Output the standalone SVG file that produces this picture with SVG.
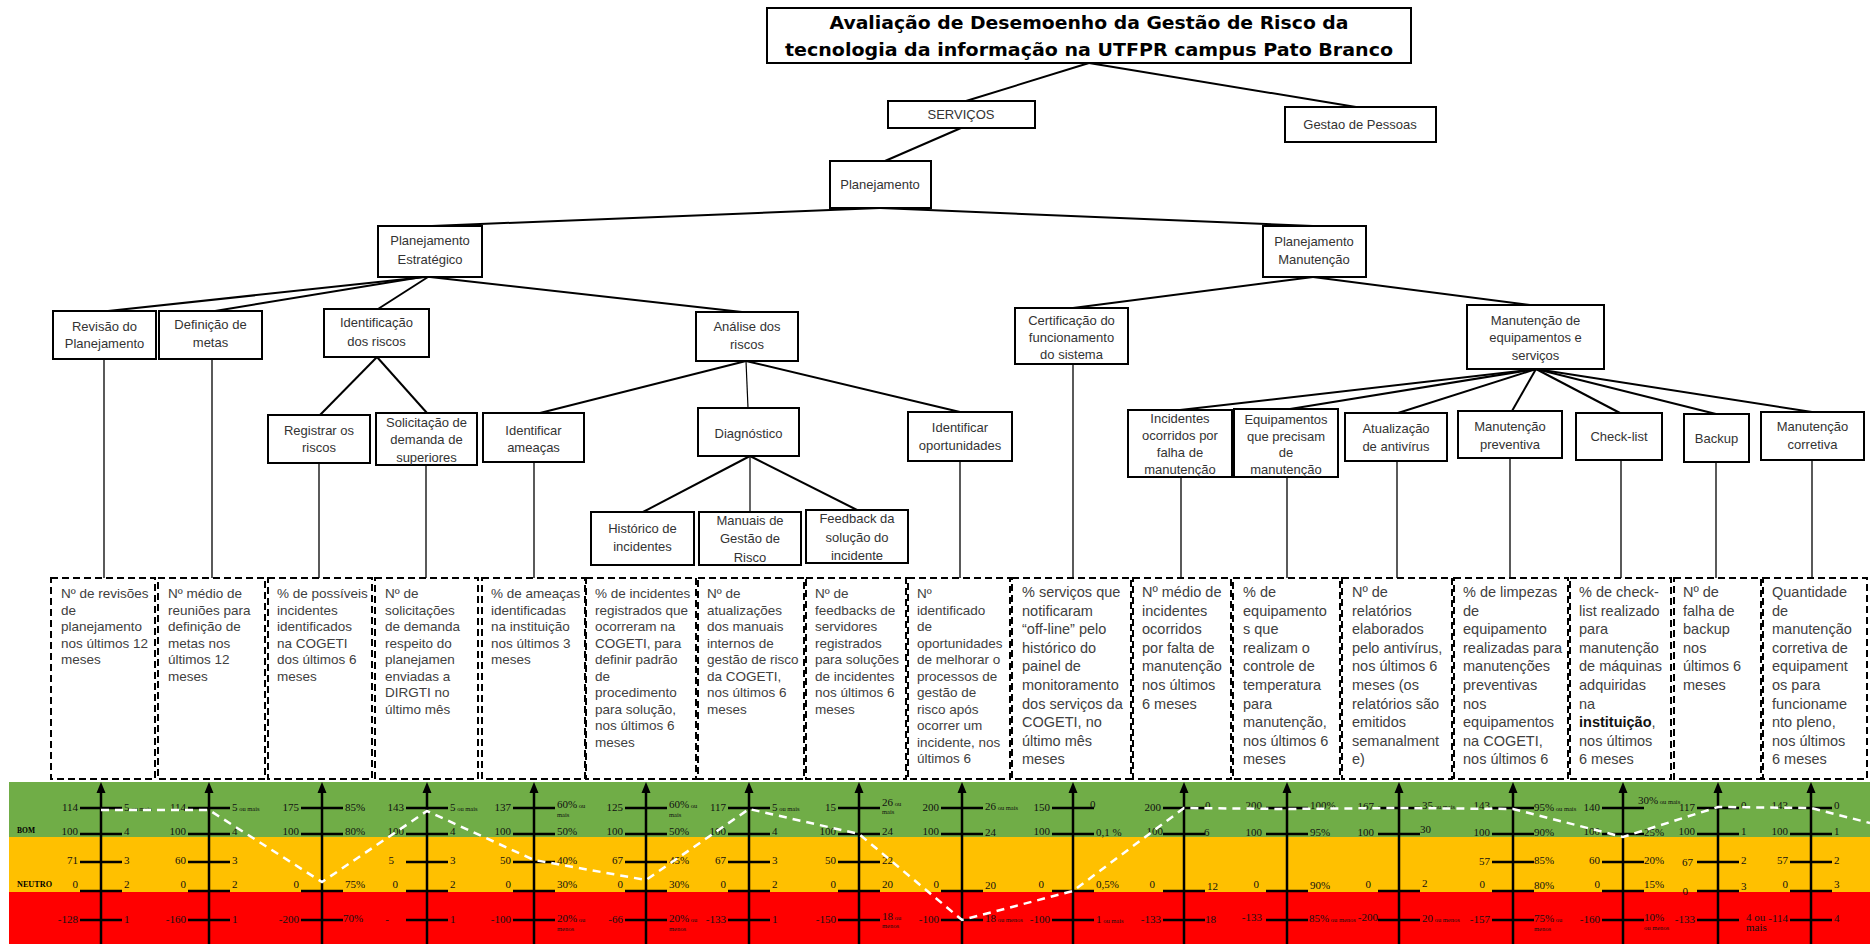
<svg xmlns="http://www.w3.org/2000/svg" xmlns:xlink="http://www.w3.org/1999/xlink" width="1870" height="944" viewBox="0 0 1870 944">
<style>
  .node rect { fill: #fff; stroke: #000; stroke-width: 2; }
  .node text { font-family: "Liberation Sans", Arial, sans-serif; font-size: 13px; fill: #333; text-anchor: middle; }
  .title text { font-family: "DejaVu Sans", Verdana, sans-serif; font-weight: bold; font-size: 17px; fill: #000; text-anchor: middle; }
  .edge { stroke: #000; stroke-width: 2; fill: none; }
  .thin { stroke-width: 1.2; }
  .drop { stroke: #000; stroke-width: 1.3; }
  .ind rect { fill: #fff; stroke: #000; stroke-width: 2; stroke-dasharray: 7 4; }
  .ind text { font-family: "Liberation Sans", Arial, sans-serif; font-size: 13.5px; fill: #404040; }
  .ind.r text { font-size: 14.5px; }
  .v { font-family: "Liberation Serif", "Times New Roman", serif; font-size: 11px; fill: #111; }
  .l { text-anchor: end; }
  .s { font-size: 6.5px; }
  .band-label { font-family: "Liberation Serif", serif; font-weight: bold; font-size: 7.5px; fill: #000; }
</style>
<defs>
  <g id="axis">
    <line x1="0" y1="944" x2="0" y2="792" stroke="#000" stroke-width="2.5"/>
    <path d="M-4.5,793 L0,782 L4.5,793 Z" fill="#000"/>
  </g>
  <line id="tk" x1="-21" y1="0" x2="21" y2="0" stroke="#000" stroke-width="2.5"/>
</defs>

<rect width="1870" height="944" fill="#fff"/>

<!-- tree connectors -->
<g id="connectors">
  <line class="edge" x1="1089" y1="63" x2="966" y2="101"/>
  <line class="edge" x1="1089" y1="63" x2="1356" y2="107"/>
  <line class="edge" x1="961" y1="128" x2="885" y2="161"/>
  <line class="edge" x1="880" y1="208" x2="432" y2="226"/>
  <line class="edge" x1="880" y1="208" x2="1313" y2="226"/>
  <line class="edge" x1="425" y1="277" x2="108" y2="311"/>
  <line class="edge" x1="422" y1="277" x2="215" y2="311"/>
  <line class="edge" x1="428" y1="277" x2="378" y2="309"/>
  <line class="edge" x1="430" y1="277" x2="742" y2="312"/>
  <line class="edge" x1="377" y1="357" x2="320" y2="415"/>
  <line class="edge" x1="377" y1="357" x2="427" y2="413"/>
  <line class="edge" x1="746" y1="361" x2="540" y2="413"/>
  <line class="edge thin" x1="746" y1="361" x2="748" y2="408"/>
  <line class="edge" x1="746" y1="361" x2="960" y2="412"/>
  <line class="edge" x1="750" y1="456" x2="643" y2="512"/>
  <line class="edge thin" x1="750" y1="456" x2="750" y2="512"/>
  <line class="edge" x1="750" y1="456" x2="857" y2="510"/>
  <line class="edge" x1="1313" y1="277" x2="1073" y2="308"/>
  <line class="edge" x1="1313" y1="277" x2="1530" y2="305"/>
  <line class="edge" x1="1536" y1="369" x2="1180" y2="410"/>
  <line class="edge" x1="1536" y1="369" x2="1290" y2="409"/>
  <line class="edge" x1="1536" y1="369" x2="1398" y2="413"/>
  <line class="edge" x1="1536" y1="369" x2="1512" y2="411"/>
  <line class="edge" x1="1536" y1="369" x2="1620" y2="413"/>
  <line class="edge" x1="1536" y1="369" x2="1716" y2="414"/>
  <line class="edge" x1="1536" y1="369" x2="1812" y2="412"/>
  <!-- drops to indicators -->
  <line class="drop" x1="104" y1="359" x2="104" y2="578"/>
  <line class="drop" x1="212" y1="359" x2="212" y2="578"/>
  <line class="drop" x1="319" y1="463" x2="319" y2="578"/>
  <line class="drop" x1="426" y1="465" x2="426" y2="578"/>
  <line class="drop" x1="534" y1="462" x2="534" y2="578"/>
  <line class="drop" x1="960" y1="461" x2="960" y2="578"/>
  <line class="drop" x1="1073" y1="364" x2="1073" y2="578"/>
  <line class="drop" x1="1181" y1="477" x2="1181" y2="578"/>
  <line class="drop" x1="1287" y1="477" x2="1287" y2="578"/>
  <line class="drop" x1="1397" y1="461" x2="1397" y2="578"/>
  <line class="drop" x1="1510" y1="458" x2="1510" y2="578"/>
  <line class="drop" x1="1621" y1="460" x2="1621" y2="578"/>
  <line class="drop" x1="1716" y1="462" x2="1716" y2="578"/>
  <line class="drop" x1="1812" y1="460" x2="1812" y2="578"/>
</g>

<!-- tree nodes -->
<g id="title" class="node title">
  <rect x="767" y="8" width="644" height="55"/>
  <text x="1089" y="29" textLength="519" lengthAdjust="spacingAndGlyphs">Avaliação de Desemoenho da Gestão de Risco da</text>
  <text x="1089" y="56" textLength="608" lengthAdjust="spacingAndGlyphs">tecnologia da informação na  UTFPR campus Pato Branco</text>
</g>
<g id="servicos" class="node"><rect x="888" y="101" width="147" height="27"/><text x="961" y="118.5">SERVIÇOS</text></g>
<g id="gestao-pessoas" class="node"><rect x="1285" y="107" width="151" height="35"/><text x="1360" y="128.5">Gestao de Pessoas</text></g>
<g id="planejamento" class="node"><rect x="830" y="161" width="101" height="47"/><text x="880" y="188.5">Planejamento</text></g>
<g id="plan-estrategico" class="node"><rect x="378" y="226" width="104" height="51"/><text x="430" y="244.5">Planejamento<tspan x="430" dy="19">Estratégico</tspan></text></g>
<g id="plan-manutencao" class="node"><rect x="1263" y="226" width="103" height="51"/><text x="1314" y="245.5">Planejamento<tspan x="1314" dy="18">Manutenção</tspan></text></g>
<g id="revisao" class="node"><rect x="53" y="311" width="103" height="48"/><text x="104.5" y="330.5">Revisão do<tspan x="104.5" dy="17">Planejamento</tspan></text></g>
<g id="definicao" class="node"><rect x="159" y="311" width="103" height="48"/><text x="210.5" y="328.5">Definição de<tspan x="210.5" dy="18">metas</tspan></text></g>
<g id="identificacao" class="node"><rect x="324" y="309" width="105" height="48"/><text x="376.5" y="326.5">Identificação<tspan x="376.5" dy="19">dos riscos</tspan></text></g>
<g id="analise" class="node"><rect x="696" y="312" width="102" height="49"/><text x="747" y="331">Análise dos<tspan x="747" dy="18">riscos</tspan></text></g>
<g id="certificacao" class="node"><rect x="1015" y="308" width="113" height="56"/><text x="1071.5" y="324.5">Certificação do<tspan x="1071.5" dy="17">funcionamento</tspan><tspan x="1071.5" dy="17">do sistema</tspan></text></g>
<g id="manut-equip" class="node"><rect x="1467" y="305" width="137" height="64"/><text x="1535.5" y="324.5">Manutenção de<tspan x="1535.5" dy="17">equipamentos e</tspan><tspan x="1535.5" dy="18">serviços</tspan></text></g>
<g id="registrar" class="node"><rect x="268" y="415" width="102" height="48"/><text x="319" y="434.5">Registrar os<tspan x="319" dy="17">riscos</tspan></text></g>
<g id="solicitacao" class="node"><rect x="376" y="413" width="101" height="52"/><text x="426.5" y="426.5">Solicitação de<tspan x="426.5" dy="17">demanda de</tspan><tspan x="426.5" dy="18">superiores</tspan></text></g>
<g id="ameacas" class="node"><rect x="483" y="413" width="101" height="49"/><text x="533.5" y="434.5">Identificar<tspan x="533.5" dy="17">ameaças</tspan></text></g>
<g id="diagnostico" class="node"><rect x="698" y="408" width="101" height="48"/><text x="748.5" y="437.5">Diagnóstico</text></g>
<g id="oportunidades" class="node"><rect x="908" y="412" width="104" height="49"/><text x="960" y="431.5">Identificar<tspan x="960" dy="18">oportunidades</tspan></text></g>
<g id="incidentes" class="node"><rect x="1128" y="410" width="104" height="67"/><text x="1180" y="423">Incidentes<tspan x="1180" dy="17">ocorridos por</tspan><tspan x="1180" dy="17">falha de</tspan><tspan x="1180" dy="17">manutenção</tspan></text></g>
<g id="equipamentos" class="node"><rect x="1234" y="409" width="104" height="68"/><text x="1286" y="424">Equipamentos<tspan x="1286" dy="16.5">que precisam</tspan><tspan x="1286" dy="16.5">de</tspan><tspan x="1286" dy="16.5">manutenção</tspan></text></g>
<g id="antivirus" class="node"><rect x="1345" y="413" width="102" height="48"/><text x="1396" y="432.5">Atualização<tspan x="1396" dy="18.5">de antivírus</tspan></text></g>
<g id="preventiva" class="node"><rect x="1458" y="411" width="104" height="47"/><text x="1510" y="430.5">Manutenção<tspan x="1510" dy="18">preventiva</tspan></text></g>
<g id="checklist" class="node"><rect x="1576" y="413" width="86" height="47"/><text x="1619" y="440.5">Check-list</text></g>
<g id="backup" class="node"><rect x="1684" y="414" width="65" height="48"/><text x="1716.5" y="442.5">Backup</text></g>
<g id="corretiva" class="node"><rect x="1761" y="412" width="103" height="48"/><text x="1812.5" y="430.5">Manutenção<tspan x="1812.5" dy="18">corretiva</tspan></text></g>
<g id="historico" class="node"><rect x="591" y="512" width="103" height="53"/><text x="642.5" y="532.5">Histórico de<tspan x="642.5" dy="18.5">incidentes</tspan></text></g>
<g id="manuais" class="node"><rect x="699" y="512" width="102" height="53"/><text x="750" y="524.5">Manuais de<tspan x="750" dy="18.5">Gestão de</tspan><tspan x="750" dy="18.5">Risco</tspan></text></g>
<g id="feedback" class="node"><rect x="806" y="510" width="102" height="53"/><text x="857" y="523">Feedback da<tspan x="857" dy="18.5">solução do</tspan><tspan x="857" dy="18.5">incidente</tspan></text></g>

<!-- indicator boxes -->
<g id="ind-1" class="ind"><rect x="51" y="578" width="104" height="201"/>
  <text x="61" y="598">Nº de revisões<tspan x="61" dy="16.5">de</tspan><tspan x="61" dy="16.5">planejamento</tspan><tspan x="61" dy="16.5">nos últimos 12</tspan><tspan x="61" dy="16.5">meses</tspan></text></g>
<g id="ind-2" class="ind"><rect x="158" y="578" width="107" height="201"/>
  <text x="168" y="598">Nº médio de<tspan x="168" dy="16.5">reuniões para</tspan><tspan x="168" dy="16.5">definição de</tspan><tspan x="168" dy="16.5">metas nos</tspan><tspan x="168" dy="16.5">últimos 12</tspan><tspan x="168" dy="16.5">meses</tspan></text></g>
<g id="ind-3" class="ind"><rect x="268" y="578" width="104" height="201"/>
  <text x="277" y="598">% de possíveis<tspan x="277" dy="16.5">incidentes</tspan><tspan x="277" dy="16.5">identificados</tspan><tspan x="277" dy="16.5">na COGETI</tspan><tspan x="277" dy="16.5">dos últimos 6</tspan><tspan x="277" dy="16.5">meses</tspan></text></g>
<g id="ind-4" class="ind"><rect x="375" y="578" width="103" height="201"/>
  <text x="385" y="598">Nº de<tspan x="385" dy="16.5">solicitações</tspan><tspan x="385" dy="16.5">de demanda</tspan><tspan x="385" dy="16.5">respeito do</tspan><tspan x="385" dy="16.5">planejamen</tspan><tspan x="385" dy="16.5">enviadas a</tspan><tspan x="385" dy="16.5">DIRGTI no</tspan><tspan x="385" dy="16.5">último mês</tspan></text></g>
<g id="ind-5" class="ind"><rect x="482" y="578" width="103" height="201"/>
  <text x="491" y="598">% de ameaças<tspan x="491" dy="16.5">identificadas</tspan><tspan x="491" dy="16.5">na instituição</tspan><tspan x="491" dy="16.5">nos últimos 3</tspan><tspan x="491" dy="16.5">meses</tspan></text></g>
<g id="ind-6" class="ind"><rect x="586" y="578" width="110" height="201"/>
  <text x="595" y="598">% de incidentes<tspan x="595" dy="16.5">registrados que</tspan><tspan x="595" dy="16.5">ocorreram na</tspan><tspan x="595" dy="16.5">COGETI, para</tspan><tspan x="595" dy="16.5">definir padrão</tspan><tspan x="595" dy="16.5">de</tspan><tspan x="595" dy="16.5">procedimento</tspan><tspan x="595" dy="16.5">para solução,</tspan><tspan x="595" dy="16.5">nos últimos 6</tspan><tspan x="595" dy="16.5">meses</tspan></text></g>
<g id="ind-7" class="ind"><rect x="698" y="578" width="106" height="201"/>
  <text x="707" y="598">Nº de<tspan x="707" dy="16.5">atualizações</tspan><tspan x="707" dy="16.5">dos manuais</tspan><tspan x="707" dy="16.5">internos de</tspan><tspan x="707" dy="16.5">gestão de risco</tspan><tspan x="707" dy="16.5">da COGETI,</tspan><tspan x="707" dy="16.5">nos últimos 6</tspan><tspan x="707" dy="16.5">meses</tspan></text></g>
<g id="ind-8" class="ind"><rect x="806" y="578" width="100" height="201"/>
  <text x="815" y="598">Nº de<tspan x="815" dy="16.5">feedbacks de</tspan><tspan x="815" dy="16.5">servidores</tspan><tspan x="815" dy="16.5">registrados</tspan><tspan x="815" dy="16.5">para soluções</tspan><tspan x="815" dy="16.5">de incidentes</tspan><tspan x="815" dy="16.5">nos últimos 6</tspan><tspan x="815" dy="16.5">meses</tspan></text></g>
<g id="ind-9" class="ind"><rect x="908" y="578" width="102" height="201"/>
  <text x="917" y="598">Nº<tspan x="917" dy="16.5">identificado</tspan><tspan x="917" dy="16.5">de</tspan><tspan x="917" dy="16.5">oportunidades</tspan><tspan x="917" dy="16.5">de melhorar o</tspan><tspan x="917" dy="16.5">processos de</tspan><tspan x="917" dy="16.5">gestão de</tspan><tspan x="917" dy="16.5">risco  após</tspan><tspan x="917" dy="16.5">ocorrer um</tspan><tspan x="917" dy="16.5">incidente, nos</tspan><tspan x="917" dy="16.5">últimos 6</tspan></text></g>
<g id="ind-10" class="ind r"><rect x="1012" y="578" width="119" height="201"/>
  <text x="1022" y="597">% serviços que<tspan x="1022" dy="18.6">notificaram</tspan><tspan x="1022" dy="18.6">“off-line” pelo</tspan><tspan x="1022" dy="18.6">histórico do</tspan><tspan x="1022" dy="18.6">painel de</tspan><tspan x="1022" dy="18.6">monitoramento</tspan><tspan x="1022" dy="18.6">dos serviços da</tspan><tspan x="1022" dy="18.6">COGETI, no</tspan><tspan x="1022" dy="18.6">último mês</tspan><tspan x="1022" dy="18.6">meses</tspan></text></g>
<g id="ind-11" class="ind r"><rect x="1133" y="578" width="98" height="201"/>
  <text x="1142" y="597">Nº médio de<tspan x="1142" dy="18.6">incidentes</tspan><tspan x="1142" dy="18.6">ocorridos</tspan><tspan x="1142" dy="18.6">por falta de</tspan><tspan x="1142" dy="18.6">manutenção</tspan><tspan x="1142" dy="18.6">nos últimos</tspan><tspan x="1142" dy="18.6">6 meses</tspan></text></g>
<g id="ind-12" class="ind r"><rect x="1233" y="578" width="107" height="201"/>
  <text x="1243" y="597">% de<tspan x="1243" dy="18.6">equipamento</tspan><tspan x="1243" dy="18.6">s que</tspan><tspan x="1243" dy="18.6">realizam o</tspan><tspan x="1243" dy="18.6">controle de</tspan><tspan x="1243" dy="18.6">temperatura</tspan><tspan x="1243" dy="18.6">para</tspan><tspan x="1243" dy="18.6">manutenção,</tspan><tspan x="1243" dy="18.6">nos últimos 6</tspan><tspan x="1243" dy="18.6">meses</tspan></text></g>
<g id="ind-13" class="ind r"><rect x="1342" y="578" width="110" height="201"/>
  <text x="1352" y="597">Nº de<tspan x="1352" dy="18.6">relatórios</tspan><tspan x="1352" dy="18.6">elaborados</tspan><tspan x="1352" dy="18.6">pelo antivírus,</tspan><tspan x="1352" dy="18.6">nos últimos 6</tspan><tspan x="1352" dy="18.6">meses (os</tspan><tspan x="1352" dy="18.6">relatórios são</tspan><tspan x="1352" dy="18.6">emitidos</tspan><tspan x="1352" dy="18.6">semanalment</tspan><tspan x="1352" dy="18.6">e)</tspan></text></g>
<g id="ind-14" class="ind r"><rect x="1454" y="578" width="114" height="201"/>
  <text x="1463" y="597">% de limpezas<tspan x="1463" dy="18.6">de</tspan><tspan x="1463" dy="18.6">equipamento</tspan><tspan x="1463" dy="18.6">realizadas para</tspan><tspan x="1463" dy="18.6">manutenções</tspan><tspan x="1463" dy="18.6">preventivas</tspan><tspan x="1463" dy="18.6">nos</tspan><tspan x="1463" dy="18.6">equipamentos</tspan><tspan x="1463" dy="18.6">na COGETI,</tspan><tspan x="1463" dy="18.6">nos últimos 6</tspan></text></g>
<g id="ind-15" class="ind r"><rect x="1570" y="578" width="101" height="201"/>
  <text x="1579" y="597">% de check-<tspan x="1579" dy="18.6">list realizado</tspan><tspan x="1579" dy="18.6">para</tspan><tspan x="1579" dy="18.6">manutenção</tspan><tspan x="1579" dy="18.6">de máquinas</tspan><tspan x="1579" dy="18.6">adquiridas</tspan><tspan x="1579" dy="18.6">na</tspan><tspan x="1579" dy="18.6"><tspan font-weight="bold" fill="#111">instituição</tspan>,</tspan><tspan x="1579" dy="18.6">nos últimos</tspan><tspan x="1579" dy="18.6">6 meses</tspan></text></g>
<g id="ind-16" class="ind r"><rect x="1674" y="578" width="87" height="201"/>
  <text x="1683" y="597">Nº de<tspan x="1683" dy="18.6">falha de</tspan><tspan x="1683" dy="18.6">backup</tspan><tspan x="1683" dy="18.6">nos</tspan><tspan x="1683" dy="18.6">últimos 6</tspan><tspan x="1683" dy="18.6">meses</tspan></text></g>
<g id="ind-17" class="ind r"><rect x="1763" y="578" width="104" height="201"/>
  <text x="1772" y="597">Quantidade<tspan x="1772" dy="18.6">de</tspan><tspan x="1772" dy="18.6">manutenção</tspan><tspan x="1772" dy="18.6">corretiva  de</tspan><tspan x="1772" dy="18.6">equipament</tspan><tspan x="1772" dy="18.6">os para</tspan><tspan x="1772" dy="18.6">funcioname</tspan><tspan x="1772" dy="18.6">nto pleno,</tspan><tspan x="1772" dy="18.6">nos últimos</tspan><tspan x="1772" dy="18.6">6 meses</tspan></text></g>

<!-- rating bands -->
<g id="bands">
  <rect x="9" y="782" width="1861" height="55" fill="#70AD47"/>
  <rect x="9" y="837" width="1861" height="55" fill="#FFC000"/>
  <rect x="9" y="892" width="1861" height="52" fill="#FF0000"/>
  <text class="band-label" x="17" y="833" textLength="18" lengthAdjust="spacingAndGlyphs">BOM</text>
  <text class="band-label" x="17" y="887" textLength="35" lengthAdjust="spacingAndGlyphs">NEUTRO</text>
</g>

<!-- scales -->
<g id="scale-1" transform="translate(101 0)">
  <use href="#axis"/><use href="#tk" y="808"/><use href="#tk" y="834"/><use href="#tk" y="862"/><use href="#tk" y="891"/><use href="#tk" y="920"/>
  <text class="v l" x="-23" y="811">114</text><text class="v l" x="-23" y="835">100</text><text class="v l" x="-23" y="864">71</text><text class="v l" x="-23" y="888">0</text><text class="v l" x="-23" y="923">-128</text>
  <text class="v" x="23" y="811">5<tspan class="s"> ou mais</tspan></text><text class="v" x="23" y="835">4</text><text class="v" x="23" y="864">3</text><text class="v" x="23" y="888">2</text><text class="v" x="23" y="923">1</text>
</g>
<g id="scale-2" transform="translate(209 0)">
  <use href="#axis"/><use href="#tk" y="808"/><use href="#tk" y="834"/><use href="#tk" y="862"/><use href="#tk" y="891"/><use href="#tk" y="920"/>
  <text class="v l" x="-23" y="811">114</text><text class="v l" x="-23" y="835">100</text><text class="v l" x="-23" y="864">60</text><text class="v l" x="-23" y="888">0</text><text class="v l" x="-23" y="923">-160</text>
  <text class="v" x="23" y="811">5<tspan class="s"> ou mais</tspan></text><text class="v" x="23" y="835">4</text><text class="v" x="23" y="864">3</text><text class="v" x="23" y="888">2</text><text class="v" x="23" y="923">1</text>
</g>
<g id="scale-3" transform="translate(322 0)">
  <use href="#axis"/><use href="#tk" y="808"/><use href="#tk" y="834"/><use href="#tk" y="891"/><use href="#tk" y="920"/>
  <text class="v l" x="-23" y="811">175</text><text class="v l" x="-23" y="835">100</text><text class="v l" x="-23" y="888">0</text><text class="v l" x="-23" y="923">-200</text>
  <text class="v" x="23" y="811">85%</text><text class="v" x="23" y="835">80%</text><text class="v" x="23" y="888">75%</text><text class="v" x="21" y="922">70%</text>
</g>
<g id="scale-4" transform="translate(427 0)">
  <use href="#axis"/><use href="#tk" y="808"/><use href="#tk" y="834"/><use href="#tk" y="862"/><use href="#tk" y="891"/><use href="#tk" y="920"/>
  <text class="v l" x="-23" y="811">143</text><text class="v l" x="-23" y="835">100</text><text class="v l" x="-33" y="864">5</text><text class="v l" x="-29" y="888">0</text><text class="v l" x="-38" y="923">-</text>
  <text class="v" x="23" y="811">5<tspan class="s"> ou mais</tspan></text><text class="v" x="23" y="835">4</text><text class="v" x="23" y="864">3</text><text class="v" x="23" y="888">2</text><text class="v" x="23" y="923">1</text>
</g>
<g id="scale-5" transform="translate(534 0)">
  <use href="#axis"/><use href="#tk" y="808"/><use href="#tk" y="834"/><use href="#tk" y="862"/><use href="#tk" y="891"/><use href="#tk" y="920"/>
  <text class="v l" x="-23" y="811">137</text><text class="v l" x="-23" y="835">100</text><text class="v l" x="-23" y="864">50</text><text class="v l" x="-23" y="888">0</text><text class="v l" x="-23" y="923">-100</text>
  <text class="v" x="23" y="808">60%<tspan class="s"> ou</tspan><tspan class="s" x="23" dy="9">mais</tspan></text><text class="v" x="23" y="835">50%</text><text class="v" x="23" y="864">40%</text><text class="v" x="23" y="888">30%</text><text class="v" x="23" y="922">20%<tspan class="s"> ou</tspan><tspan class="s" x="23" dy="9">menos</tspan></text>
</g>
<g id="scale-6" transform="translate(646 0)">
  <use href="#axis"/><use href="#tk" y="808"/><use href="#tk" y="834"/><use href="#tk" y="862"/><use href="#tk" y="891"/><use href="#tk" y="920"/>
  <text class="v l" x="-23" y="811">125</text><text class="v l" x="-23" y="835">100</text><text class="v l" x="-23" y="864">67</text><text class="v l" x="-23" y="888">0</text><text class="v l" x="-23" y="923">-66</text>
  <text class="v" x="23" y="808">60%<tspan class="s"> ou</tspan><tspan class="s" x="23" dy="9">mais</tspan></text><text class="v" x="23" y="835">50%</text><text class="v" x="23" y="864">45%</text><text class="v" x="23" y="888">30%</text><text class="v" x="23" y="922">20%<tspan class="s"> ou</tspan><tspan class="s" x="23" dy="9">menos</tspan></text>
</g>
<g id="scale-7" transform="translate(749 0)">
  <use href="#axis"/><use href="#tk" y="808"/><use href="#tk" y="834"/><use href="#tk" y="862"/><use href="#tk" y="891"/><use href="#tk" y="920"/>
  <text class="v l" x="-23" y="811">117</text><text class="v l" x="-23" y="835">100</text><text class="v l" x="-23" y="864">67</text><text class="v l" x="-23" y="888">0</text><text class="v l" x="-23" y="923">-133</text>
  <text class="v" x="23" y="811">5<tspan class="s"> ou mais</tspan></text><text class="v" x="23" y="835">4</text><text class="v" x="23" y="864">3</text><text class="v" x="23" y="888">2</text><text class="v" x="23" y="923">1</text>
</g>
<g id="scale-8" transform="translate(859 0)">
  <use href="#axis"/><use href="#tk" y="808"/><use href="#tk" y="834"/><use href="#tk" y="862"/><use href="#tk" y="891"/><use href="#tk" y="920"/>
  <text class="v l" x="-23" y="811">15</text><text class="v l" x="-23" y="835">100</text><text class="v l" x="-23" y="864">50</text><text class="v l" x="-23" y="888">0</text><text class="v l" x="-23" y="923">-150</text>
  <text class="v" x="23" y="806">26<tspan class="s"> ou</tspan><tspan class="s" x="23" dy="8">mais</tspan></text><text class="v" x="23" y="835">24</text><text class="v" x="23" y="864">22</text><text class="v" x="23" y="888">20</text><text class="v" x="23" y="920">18<tspan class="s"> ou</tspan><tspan class="s" x="23" dy="8">menos</tspan></text>
</g>
<g id="scale-9" transform="translate(962 0)">
  <use href="#axis"/><use href="#tk" y="808"/><use href="#tk" y="834"/><use href="#tk" y="891"/><use href="#tk" y="920"/>
  <text class="v l" x="-23" y="811">200</text><text class="v l" x="-23" y="835">100</text><text class="v l" x="-23" y="888">0</text><text class="v l" x="-23" y="923">-100</text>
  <text class="v" x="23" y="810">26<tspan class="s"> ou mais</tspan></text><text class="v" x="23" y="836">24</text><text class="v" x="23" y="889">20</text><text class="v" x="23" y="922">18<tspan class="s"> ou menos</tspan></text>
</g>
<g id="scale-10" transform="translate(1073 0)">
  <use href="#axis"/><use href="#tk" y="808"/><use href="#tk" y="834"/><use href="#tk" y="891"/><use href="#tk" y="920"/>
  <text class="v l" x="-23" y="811">150</text><text class="v l" x="-23" y="835">100</text><text class="v l" x="-29" y="888">0</text><text class="v l" x="-23" y="923">-100</text>
  <text class="v" x="17" y="808">0</text><text class="v" x="23" y="836">0,1 %</text><text class="v" x="23" y="888">0,5%</text><text class="v" x="23" y="923">1<tspan class="s"> ou mais</tspan></text>
</g>
<g id="scale-11" transform="translate(1184 0)">
  <use href="#axis"/><use href="#tk" y="808"/><use href="#tk" y="834"/><use href="#tk" y="891"/><use href="#tk" y="920"/>
  <text class="v l" x="-23" y="811">200</text><text class="v l" x="-21" y="835">100</text><text class="v l" x="-29" y="888">0</text><text class="v l" x="-23" y="923">-133</text>
  <text class="v" x="21" y="809">0</text><text class="v" x="20" y="836">6</text><text class="v" x="23" y="890">12</text><text class="v" x="21" y="923">18</text>
</g>
<g id="scale-12" transform="translate(1287 0)">
  <use href="#axis"/><use href="#tk" y="808"/><use href="#tk" y="834"/><use href="#tk" y="891"/><use href="#tk" y="920"/>
  <text class="v l" x="-25" y="809">200</text><text class="v l" x="-25" y="836">100</text><text class="v l" x="-28" y="888">0</text><text class="v l" x="-25" y="921">-133</text>
  <text class="v" x="23" y="809">100%</text><text class="v" x="23" y="836">95%</text><text class="v" x="23" y="889">90%</text><text class="v" x="22" y="922">85%<tspan class="s"> ou menos</tspan></text>
</g>
<g id="scale-13" transform="translate(1399 0)">
  <use href="#axis"/><use href="#tk" y="808"/><use href="#tk" y="834"/><use href="#tk" y="891"/><use href="#tk" y="920"/>
  <text class="v l" x="-25" y="810">167</text><text class="v l" x="-25" y="836">100</text><text class="v l" x="-28" y="888">0</text><text class="v l" x="-21" y="921">-200</text>
  <text class="v" x="23" y="809">35<tspan class="s"> ou mais</tspan></text><text class="v" x="21" y="833">30</text><text class="v" x="23" y="887">2</text><text class="v" x="23" y="922">20<tspan class="s"> ou menos</tspan></text>
</g>
<g id="scale-14" transform="translate(1513 0)">
  <use href="#axis"/><use href="#tk" y="808"/><use href="#tk" y="834"/><use href="#tk" y="862"/><use href="#tk" y="891"/><use href="#tk" y="920"/>
  <text class="v l" x="-23" y="809">143</text><text class="v l" x="-23" y="836">100</text><text class="v l" x="-23" y="865">57</text><text class="v l" x="-28" y="888">0</text><text class="v l" x="-23" y="923">-157</text>
  <text class="v" x="21" y="811">95%<tspan class="s"> ou mais</tspan></text><text class="v" x="21" y="836">90%</text><text class="v" x="21" y="864">85%</text><text class="v" x="21" y="889">80%</text><text class="v" x="21" y="922">75%<tspan class="s"> ou</tspan><tspan class="s" x="21" dy="9">menos</tspan></text>
</g>
<g id="scale-15" transform="translate(1623 0)">
  <use href="#axis"/><use href="#tk" y="808"/><use href="#tk" y="834"/><use href="#tk" y="862"/><use href="#tk" y="891"/><use href="#tk" y="920"/>
  <text class="v l" x="-23" y="811">140</text><text class="v l" x="-23" y="835">100</text><text class="v l" x="-23" y="864">60</text><text class="v l" x="-23" y="888">0</text><text class="v l" x="-23" y="923">-160</text>
  <text class="v" x="15" y="804">30%<tspan class="s"> ou mais</tspan></text><text class="v" x="21" y="836">25%</text><text class="v" x="21" y="864">20%</text><text class="v" x="21" y="888">15%</text><text class="v" x="21" y="921">10%<tspan class="s" x="21" dy="9">ou menos</tspan></text>
</g>
<g id="scale-16" transform="translate(1718 0)">
  <use href="#axis"/><use href="#tk" y="808"/><use href="#tk" y="834"/><use href="#tk" y="862"/><use href="#tk" y="891"/><use href="#tk" y="920"/>
  <text class="v l" x="-23" y="811">117</text><text class="v l" x="-23" y="835">100</text><text class="v l" x="-25" y="866">67</text><text class="v l" x="-30" y="895">0</text><text class="v l" x="-23" y="923">-133</text>
  <text class="v" x="23" y="809">0</text><text class="v" x="23" y="835">1</text><text class="v" x="23" y="864">2</text><text class="v" x="23" y="890">3</text><text class="v" x="28" y="921">4 ou<tspan x="28" dy="10">mais</tspan></text>
</g>
<g id="scale-17" transform="translate(1811 0)">
  <use href="#axis"/><use href="#tk" y="808"/><use href="#tk" y="834"/><use href="#tk" y="862"/><use href="#tk" y="891"/><use href="#tk" y="920"/>
  <text class="v l" x="-23" y="809">143</text><text class="v l" x="-23" y="835">100</text><text class="v l" x="-23" y="864">57</text><text class="v l" x="-23" y="888">0</text><text class="v l" x="-23" y="922">-114</text>
  <text class="v" x="23" y="809">0</text><text class="v" x="23" y="835">1</text><text class="v" x="23" y="864">2</text><text class="v" x="23" y="888">3</text><text class="v" x="23" y="922">4</text>
</g>

<!-- performance profile -->
<polyline id="profile" points="101,810 209,810 322,882 427,811 534,860 646,880 749,809 859,834 962,920 1073,891 1184,808 1287,809 1399,808 1513,809 1623,837 1718,807 1811,808 1870,823" fill="none" stroke="#fff" stroke-width="2.5" stroke-dasharray="8 6"/>
</svg>
